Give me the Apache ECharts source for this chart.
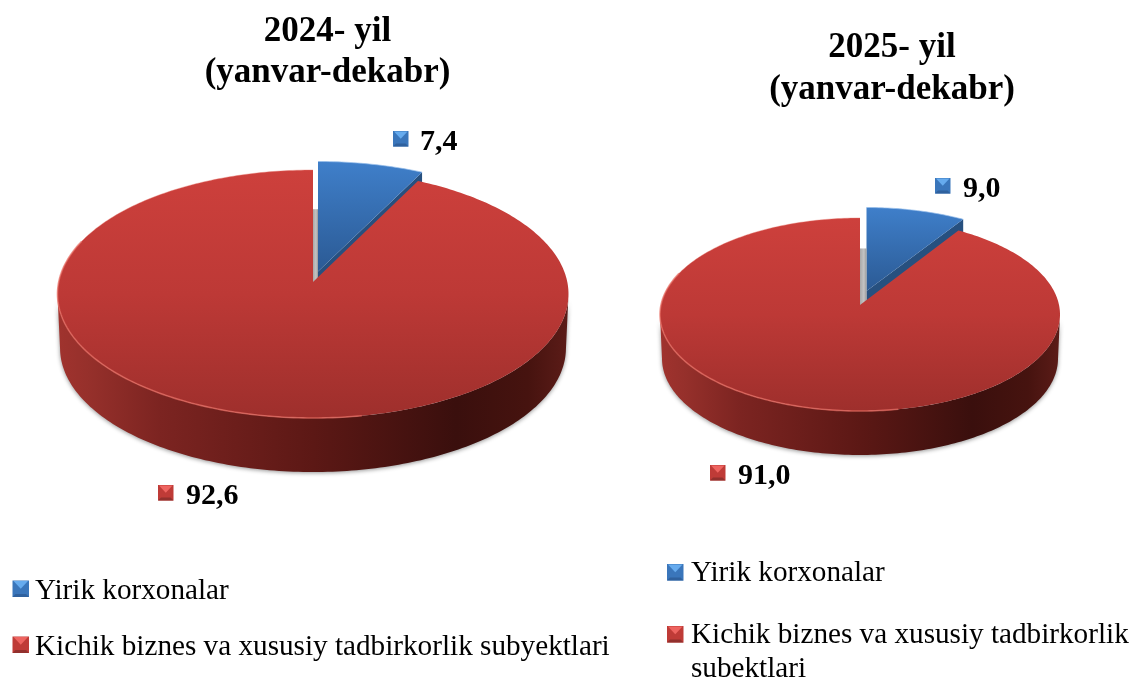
<!DOCTYPE html>
<html><head><meta charset="utf-8">
<style>html,body{margin:0;padding:0;background:#fff}#c{width:1132px;height:677px}</style>
<script src="https://cdn.jsdelivr.net/npm/echarts@6/dist/echarts.min.js"></script>
</head><body><div id="c"></div>
<script>
// ---- data ----
const titles2024 = "2024- yil\n(yanvar-dekabr)";
const titles2025 = "2025- yil\n(yanvar-dekabr)";
const values2024 = [7.4, 92.6];
const values2025 = [9.0, 91.0];
const legend2024 = ["Yirik korxonalar", "Kichik biznes va xususiy tadbirkorlik subyektlari"];
const legend2025 = ["Yirik korxonalar", "Kichik biznes va xususiy tadbirkorlik\nsubektlari"];

// ---- layout ----
const FONT = '"Liberation Serif","Times New Roman",serif';
const pie2024 = {ax:313, ay:282, up:112, down:136, rx:255.5, depth:54, bx:5, by:-10.5, bup:110,
  labels:[[393,131,420,'7,4'],[158,485,186,'92,6']]};
const pie2025 = {ax:860, ay:305, up:87, down:106, rx:200, depth:44, bx:6.5, by:-14, bup:83.5,
  labels:[[935,178,963,'9,0'],[710,465,738,'91,0']]};
const MARK = [
  {top:'#66abee', side:'#3a76bb', bot:'#2f619e'},
  {top:'#ee6460', side:'#bf3b37', bot:'#92302d'}
];

function marker(x, y, s, m) {
  const b = 3;
  const P = (pts, f) => ({type:'polygon', shape:{points:pts}, style:{fill:f}, silent:true});
  const x2 = x + s, y2 = y + s;
  return [
    P([[x,y],[x2,y],[x2,y2],[x,y2]], m.side),
    P([[x+1,y+0.5],[x2-1,y+0.5],[x+s/2,y+s*0.5]], m.top),
    P([[x,y2],[x2,y2],[x2-b,y2-b],[x+b,y2-b]], m.bot)
  ];
}

// perspective view of a circle, so each slice's angle comes directly from its value
function projector(p, up) {
  const a = 2 / (1/up + 1/p.down), b = a/up - 1, c = p.rx * Math.sqrt(1 - b*b);
  return (deg, dx, dy) => {
    const t = deg * Math.PI/180, X = Math.sin(t), Y = Math.cos(t), w = 1 + b*Y;
    return [p.ax + (dx||0) + c*X/w, p.ay + (dy||0) - a*Y/w];
  };
}
function arc(pr, from, to, dx, dy) {
  const pts = [], n = Math.max(2, Math.ceil(Math.abs(to-from)));
  for (let i=0;i<=n;i++) pts.push(pr(from + (to-from)*i/n, dx, dy));
  return pts;
}
const vGrad = (stops) => ({type:'linear',x:0,y:0,x2:0,y2:1,colorStops:stops.map(s=>({offset:s[0],color:s[1]}))});
const hGrad = (stops) => ({type:'linear',x:0,y:0,x2:1,y2:0,colorStops:stops.map(s=>({offset:s[0],color:s[1]}))});

function pieSeries(name, values, names, p) {
  const total = values.reduce((a,b)=>a+b,0);
  return {
    type:'custom', name, coordinateSystem:'none', silent:true, animation:false, clip:false,
    data: values.map((v,i)=>({name:names[i], value:[v]})),
    renderItem(params, api) {
      const i = params.dataIndex, v = api.value(0);
      let startV = 0; for (let k=0;k<i;k++) startV += values[k];
      const from = startV/total*360, to = (startV+v)/total*360;
      const ch = [];
      if (i === 0) {
        // blue slice, pulled out from the pie
        const pr = projector(p, p.bup), A = [p.ax+p.bx, p.ay+p.by];
        const end = pr(to, p.bx, p.by);
        ch.push({type:'polygon', shape:{points:[A, end, [end[0],end[1]+p.depth*0.3], [end[0]-4,end[1]+p.depth], [A[0],A[1]+p.depth]]},
          style:{fill:'#27507f'}});
        ch.push({type:'polygon', shape:{points:[A].concat(arc(pr,from,to,p.bx,p.by))},
          style:{fill:vGrad([[0,'#3f7fca'],[1,'#2b5a94']])}});
        ch.push({type:'polyline', shape:{points:arc(pr,from,to,p.bx,p.by)},
          style:{fill:null, stroke:'rgba(150,190,235,.7)', lineWidth:1}});
        // shadowed gap behind the pulled-out slice
        const gy = p.ay - p.up*0.65;
        ch.push({type:'polygon', shape:{points:[[p.ax,gy],[A[0],gy],[A[0],p.ay],[p.ax,p.ay]]},
          style:{fill:hGrad([[0,'#a8a8a8'],[.6,'#c4c4c4'],[1,'#9a9a9a'] ])}});
      } else {
        const pr = projector(p, p.up);
        // side wall
        const ring = arc(pr, 0, 360);
        let iR = 0, iL = 0;
        ring.forEach((q,k)=>{ if(q[0]>ring[iR][0]) iR=k; if(q[0]<ring[iL][0]) iL=k; });
        const front = ring.slice(iR, iL+1);
        const lower = front.map(q=>[p.ax + (q[0]-p.ax)*0.99, q[1]+p.depth]).reverse();
        ch.push({type:'polygon', shape:{points:front.concat(lower)},
          style:{fill:hGrad([[0,'#a0332e'],[.06,'#96302b'],[.2,'#7c2421'],[.5,'#5c1815'],[.78,'#3a0f0d'],[.92,'#46130f'],[1,'#5c1c18']]),
                 shadowBlur:4, shadowColor:'rgba(60,60,60,.55)', shadowOffsetY:1}});
        // top face
        ch.push({type:'polygon', shape:{points:[[p.ax,p.ay]].concat(arc(pr,from,to))},
          style:{fill:vGrad([[0,'#cd403c'],[.5,'#bd3936'],[1,'#9e2f2c']])}});
        // bevel highlight
        ch.push({type:'polyline', shape:{points:arc(pr,170,290)},
          style:{fill:null, stroke:'rgba(232,110,100,.7)', lineWidth:1.6}});
        ch.push({type:'polyline', shape:{points:arc(pr,290,360)},
          style:{fill:null, stroke:'rgba(232,120,110,.4)', lineWidth:1}});
      }
      const L = p.labels[i];
      marker(L[0], L[1], 15.5, MARK[i]).forEach(m=>ch.push(m));
      ch.push({type:'text', style:{text:L[3], x:L[2], y:L[1]+11.5, fill:'#000',
        font:'bold 30px '+FONT, verticalAlign:'middle', align:'left'}});
      return {type:'group', children:ch};
    }
  };
}

function legendEls(names, x, tx, rows, dy) {
  const els = [];
  names.forEach((n,i)=>{
    marker(x, rows[i], 16.5, MARK[i]).forEach(m=>els.push(m));
    els.push({type:'text', x:tx, y:rows[i]-7+dy, silent:true,
      style:{text:n, fill:'#000', font:'29.2px '+FONT, lineHeight:33.5, align:'left', verticalAlign:'top'}});
  });
  return els;
}

const chart = echarts.init(document.getElementById('c'));
chart.setOption({
  animation:false,
  backgroundColor:'#fff',
  title:[
    {text:titles2024, left:322.5, top:6, textAlign:'center',
     textStyle:{fontFamily:FONT, fontWeight:'bold', fontSize:35, lineHeight:41.5, color:'#000'}},
    {text:titles2025, left:887, top:22, textAlign:'center',
     textStyle:{fontFamily:FONT, fontWeight:'bold', fontSize:35, lineHeight:42, color:'#000'}}
  ],
  series:[
    pieSeries('2024', values2024, legend2024, pie2024),
    pieSeries('2025', values2025, legend2025, pie2025)
  ],
  graphic:{elements: legendEls(legend2024, 12.5, 35, [580.5, 636.5], 1).concat(legendEls(legend2025, 667, 691, [564, 626], 0))}
});
</script></body></html>
